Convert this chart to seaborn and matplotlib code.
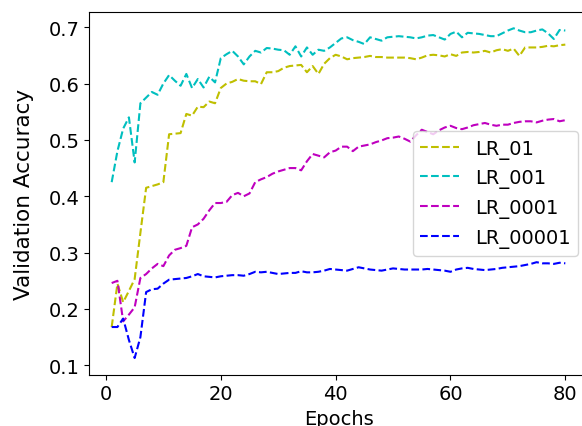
import pandas as pd
import numpy as np
import seaborn as sns
import matplotlib.pyplot as plt

epochs = list(range(1, 81))

lr_01 = [0.168, 0.245, 0.212, 0.232, 0.253, 0.335, 0.415, 0.418, 0.421, 0.425,
         0.510, 0.511, 0.512, 0.546, 0.543, 0.559, 0.558, 0.568, 0.565, 0.592,
         0.600, 0.603, 0.608, 0.605, 0.604, 0.604, 0.599, 0.620, 0.620, 0.622,
         0.628, 0.631, 0.632, 0.633, 0.620, 0.631, 0.617, 0.635, 0.645, 0.651,
         0.648, 0.643, 0.645, 0.646, 0.647, 0.649, 0.647, 0.647, 0.646, 0.646,
         0.646, 0.646, 0.645, 0.643, 0.646, 0.650, 0.651, 0.650, 0.648, 0.652,
         0.649, 0.655, 0.656, 0.655, 0.656, 0.658, 0.655, 0.659, 0.661, 0.658,
         0.662, 0.649, 0.664, 0.664, 0.664, 0.665, 0.667, 0.666, 0.668, 0.669]

lr_001 = [0.425, 0.480, 0.520, 0.540, 0.460, 0.565, 0.575, 0.585, 0.580, 0.600,
          0.615, 0.605, 0.596, 0.617, 0.592, 0.608, 0.593, 0.612, 0.602, 0.645,
          0.652, 0.658, 0.648, 0.634, 0.648, 0.658, 0.655, 0.663, 0.662, 0.660,
          0.659, 0.651, 0.666, 0.648, 0.664, 0.651, 0.660, 0.658, 0.664, 0.672,
          0.680, 0.682, 0.677, 0.674, 0.670, 0.682, 0.679, 0.676, 0.682, 0.683,
          0.684, 0.683, 0.682, 0.680, 0.682, 0.685, 0.686, 0.682, 0.678, 0.688,
          0.692, 0.682, 0.690, 0.689, 0.688, 0.686, 0.684, 0.684, 0.689, 0.694,
          0.698, 0.694, 0.691, 0.691, 0.694, 0.696, 0.689, 0.679, 0.695, 0.694]

lr_0001 = [0.246, 0.250, 0.178, 0.190, 0.203, 0.255, 0.262, 0.272, 0.280, 0.276,
           0.295, 0.305, 0.308, 0.312, 0.345, 0.350, 0.360, 0.375, 0.388, 0.388,
           0.390, 0.402, 0.406, 0.400, 0.405, 0.425, 0.430, 0.434, 0.440, 0.444,
           0.447, 0.450, 0.450, 0.446, 0.462, 0.475, 0.472, 0.469, 0.478, 0.481,
           0.488, 0.488, 0.480, 0.488, 0.490, 0.492, 0.496, 0.499, 0.503, 0.504,
           0.506, 0.502, 0.497, 0.508, 0.518, 0.514, 0.510, 0.517, 0.522, 0.525,
           0.521, 0.519, 0.522, 0.526, 0.528, 0.530, 0.527, 0.525, 0.527, 0.527,
           0.530, 0.532, 0.533, 0.533, 0.531, 0.534, 0.536, 0.537, 0.533, 0.535]

lr_00001 = [0.168, 0.168, 0.183, 0.145, 0.113, 0.150, 0.230, 0.235, 0.236, 0.245,
            0.252, 0.253, 0.254, 0.255, 0.258, 0.262, 0.258, 0.257, 0.256, 0.258,
            0.259, 0.260, 0.260, 0.259, 0.262, 0.266, 0.265, 0.266, 0.264, 0.262,
            0.263, 0.264, 0.264, 0.267, 0.265, 0.265, 0.266, 0.268, 0.271, 0.270,
            0.269, 0.268, 0.271, 0.274, 0.272, 0.270, 0.269, 0.268, 0.270, 0.272,
            0.271, 0.270, 0.270, 0.270, 0.270, 0.271, 0.270, 0.269, 0.268, 0.266,
            0.270, 0.272, 0.273, 0.271, 0.270, 0.269, 0.270, 0.271, 0.273, 0.274,
            0.275, 0.276, 0.278, 0.280, 0.283, 0.281, 0.281, 0.280, 0.282, 0.281]

names = ['LR_01', 'LR_001', 'LR_0001', 'LR_00001']
colors = ['y', 'c', 'm', 'b']

df = pd.DataFrame({'Epoch': epochs, 'LR_01': lr_01, 'LR_001': lr_001,
                   'LR_0001': lr_0001, 'LR_00001': lr_00001})

fig = plt.figure(figsize=(5.82, 4.27), dpi=100)
ax = fig.add_axes([89 / 582, 51.5 / 427, 499 / 582, 362.7 / 427])

for name, color in zip(names, colors):
    sns.lineplot(data=df, x='Epoch', y=name, color=color, linestyle='--',
                 linewidth=1.5, label=name, ax=ax)

ax.set_xticks([0, 20, 40, 60, 80])
ax.tick_params(axis='both', labelsize=14)
ax.set_xlabel('Epochs', fontsize=14)
ax.set_ylabel('Validation Accuracy', fontsize=15.5, labelpad=10)
ax.legend(loc='center right', fontsize=14)

plt.savefig('out.png', dpi=100)
